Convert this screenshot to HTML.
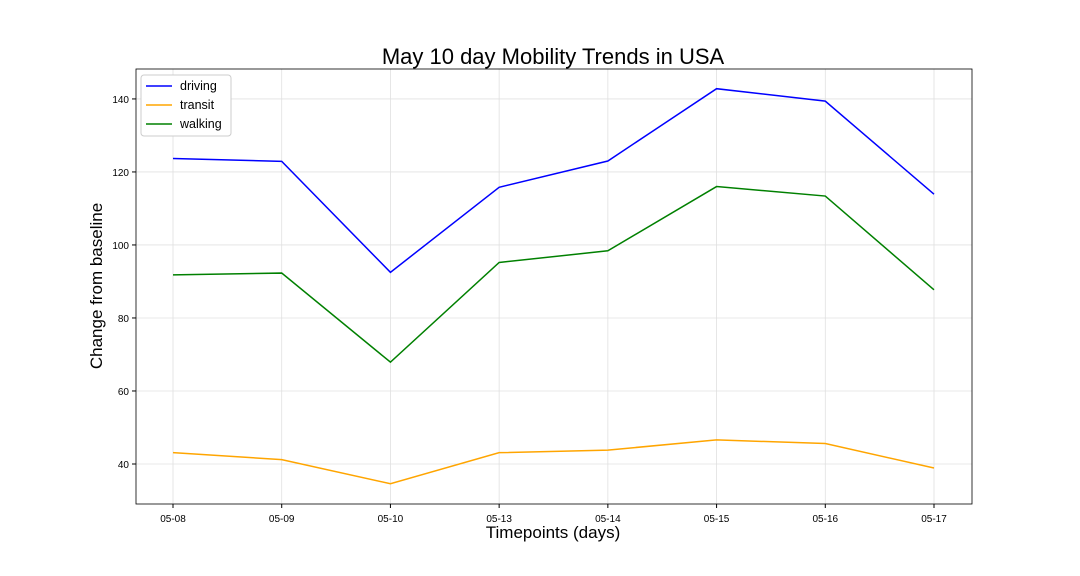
<!DOCTYPE html>
<html><head><meta charset="utf-8"><style>
body{margin:0;background:#fff;}
svg{display:block;font-family:"Liberation Sans","DejaVu Sans",sans-serif;}
</style></head><body>
<svg id="chart" width="1080" height="576"></svg>
<script>
const categories=["05-08","05-09","05-10","05-13","05-14","05-15","05-16","05-17"];
const driving=[123.7,122.9,92.5,115.8,123.0,142.8,139.4,113.9];
const transit=[43.1,41.2,34.6,43.1,43.8,46.6,45.6,38.9];
const walking=[91.8,92.3,67.9,95.2,98.4,116.0,113.4,87.7];
const yTicks=[40,60,80,100,120,140];
const NS="http://www.w3.org/2000/svg";
const svg=document.getElementById('chart');
const L=136,R=972,T=69,B=504;
const yMin=29.04,yMax=148.2;
const x=i=>173+i*(934-173)/(categories.length-1);
const y=v=>B-(v-yMin)/(yMax-yMin)*(B-T);
function mk(tag,attrs,parent){const e=document.createElementNS(NS,tag);for(const k in attrs)e.setAttribute(k,attrs[k]);(parent||svg).appendChild(e);return e;}
yTicks.forEach(v=>{
 const g=mk('line',{x1:L,x2:R,y1:y(v),y2:y(v),stroke:'#e0e0e0','stroke-width':0.8});
 
 
 mk('line',{x1:L-4,x2:L,y1:y(v),y2:y(v),stroke:'#000'});
 const t=mk('text',{x:L-7,y:y(v)+4,'text-anchor':'end','font-size':10});t.textContent=v;
 
 
});
categories.forEach((c,i)=>{
 const g=mk('line',{x1:x(i),x2:x(i),y1:T,y2:B,stroke:'#e0e0e0','stroke-width':0.8});
 
 
 mk('line',{x1:x(i),x2:x(i),y1:B,y2:B+4,stroke:'#000'});
 const t=mk('text',{x:x(i),y:B+18,'text-anchor':'middle','font-size':10});t.textContent=c;
 
 
});
const series=[["driving",driving,"#0000ff"],["transit",transit,"#ffa500"],["walking",walking,"#008000"]];
series.forEach(([n,d,c])=>{
 const p=mk('polyline',{points:d.map((v,i)=>x(i)+','+y(v)).join(' '),fill:'none',stroke:c,'stroke-width':1.5});
 
 
});
const frame=mk('rect',{x:L,y:T,width:R-L,height:B-T,fill:'none',stroke:'#000','stroke-width':0.8});


const lg=mk('g',{});


mk('rect',{x:141,y:75,width:90,height:61,rx:3,fill:'#fff',stroke:'#ccc'},lg);
series.forEach(([n,d,c],i)=>{
 const yy=86+i*19;
 mk('line',{x1:146,x2:172,y1:yy,y2:yy,stroke:c,'stroke-width':1.5},lg);
 const t=mk('text',{x:180,y:yy+4,'font-size':12.5},lg);t.textContent=n;
 
 
});
const title=mk('text',{x:553,y:64,'text-anchor':'middle','font-size':22});title.textContent='May 10 day Mobility Trends in USA';


const xt=mk('text',{x:553,y:538,'text-anchor':'middle','font-size':17});xt.textContent='Timepoints (days)';


const yt=mk('text',{x:0,y:0,'text-anchor':'middle','font-size':17,transform:'translate(102,286) rotate(-90)'});yt.textContent='Change from baseline';


</script>
</body></html>
